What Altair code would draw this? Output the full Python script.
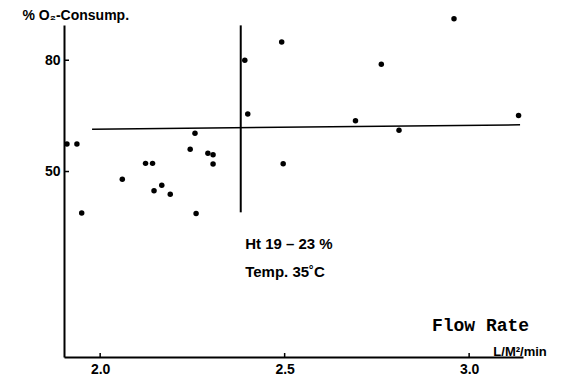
import altair as alt
import pandas as pd

# Scatter data
flow = [1.910, 1.937, 1.950, 2.060, 2.123, 2.142, 2.146, 2.167, 2.190, 2.244,
        2.257, 2.260, 2.292, 2.306, 2.306, 2.400, 2.392, 2.492, 2.496, 2.692,
        2.762, 2.810, 2.959, 3.134]
o2 = [57.4, 57.4, 38.8, 47.9, 52.2, 52.2, 44.8, 46.3, 43.9, 56.0,
      60.3, 38.7, 54.9, 54.5, 52.0, 65.5, 80.0, 84.9, 52.1, 63.7,
      78.9, 61.1, 91.2, 65.1]

# Reference lines
hline_x = [1.978, 3.138]
hline_y = [61.4, 62.6]
vline_x = [2.381]
vline_y = [39.0]
vline_y2 = [89.4]

x_ticks = [2.0, 2.5, 3.0]
y_ticks = [50, 80]

notes = ["Ht   19 – 23 %", "Temp. 35˚C"]
notes_x = [2.393, 2.393]
notes_y = [30.4, 23.0]

W, H = 459, 332
FONT = "Liberation Sans"

xs = alt.Scale(domain=[1.902, 3.146], nice=False, zero=False)
ys = alt.Scale(domain=[0, 89.5], nice=False, zero=False)

pts = pd.DataFrame({"flow": flow, "o2": o2})

base_x_axis = alt.Axis(values=x_ticks, format=".1f", ticks=False, grid=False,
                       domainColor="black", domainWidth=2,
                       labelFont=FONT, labelFontWeight="bold", labelFontSize=14,
                       labelColor="black", labelPadding=5,
                       title="Flow Rate", titleFont="Liberation Mono",
                       titleFontWeight="bold", titleFontSize=18, titleColor="black",
                       titleX=416, titleY=-32, titleAlign="center",
                       titleBaseline="middle", titleAnchor="start")
base_y_axis = alt.Axis(values=y_ticks, ticks=False, grid=False,
                       domainColor="black", domainWidth=2,
                       labelFont=FONT, labelFontWeight="bold", labelFontSize=14,
                       labelColor="black", labelPadding=4,
                       title="% O₂-Consump.", titleFont=FONT, titleFontSize=14,
                       titleFontWeight="bold", titleColor="black",
                       titleAngle=0, titleX=-42, titleY=-10, titleAlign="left",
                       titleBaseline="middle", titleAnchor="start")

points = alt.Chart(pts).mark_circle(size=30, color="black", opacity=1).encode(
    x=alt.X("flow:Q", scale=xs, axis=base_x_axis),
    y=alt.Y("o2:Q", scale=ys, axis=base_y_axis),
)

hl = alt.Chart(pd.DataFrame({"x": hline_x, "y": hline_y})).mark_line(
    color="black", strokeWidth=1.5).encode(
    x=alt.X("x:Q", scale=xs), y=alt.Y("y:Q", scale=ys))

vl = alt.Chart(pd.DataFrame({"x": vline_x, "y": vline_y, "y2": vline_y2})).mark_rule(
    color="black", strokeWidth=2).encode(
    x=alt.X("x:Q", scale=xs), y=alt.Y("y:Q", scale=ys), y2="y2:Q")

xt = alt.Chart(pd.DataFrame({"t": x_ticks})).mark_rule(color="black", strokeWidth=1.5).encode(
    x=alt.X("t:Q", scale=xs), y=alt.value(H), y2=alt.value(H - 4))

yt = alt.Chart(pd.DataFrame({"t": y_ticks})).mark_rule(color="black", strokeWidth=1.5).encode(
    y=alt.Y("t:Q", scale=ys), x=alt.value(0), x2=alt.value(5))

note = alt.Chart(pd.DataFrame({"x": notes_x, "y": notes_y, "t": notes})).mark_text(
    align="left", baseline="middle", font=FONT, fontSize=15, fontWeight="bold",
    color="black").encode(
    x=alt.X("x:Q", scale=xs), y=alt.Y("y:Q", scale=ys), text="t:N")

units = alt.Chart(pd.DataFrame({"x": [3.138], "y": [1.4], "t": ["L/M²/min"]})).mark_text(
    align="center", baseline="middle", font=FONT, fontSize=13, fontWeight="bold",
    color="black").encode(
    x=alt.X("x:Q", scale=xs), y=alt.Y("y:Q", scale=ys), text="t:N")

chart = alt.layer(points, hl, vl, xt, yt, note, units).properties(
    width=W, height=H,
    autosize=alt.AutoSizeParams(type="none"),
    padding={"left": 64, "top": 25, "right": 39, "bottom": 21},
    background="white",
).configure_view(stroke=None)

chart.save("out.html", embed_options={"renderer": "svg", "actions": False})
